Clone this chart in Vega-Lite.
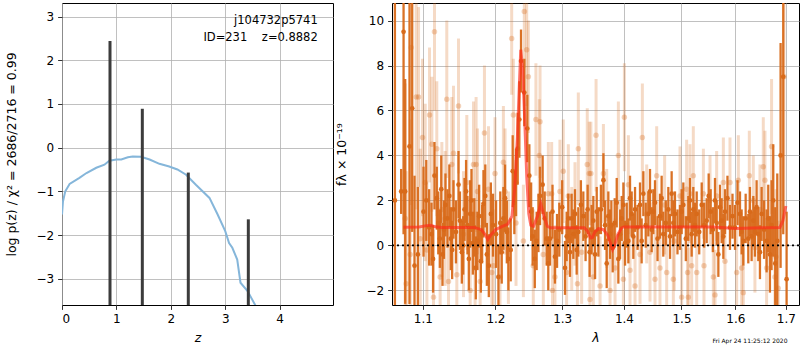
{
"$schema": "https://vega.github.io/schema/vega-lite/v6.json",
"padding": {"left": 5, "top": 2, "right": 1, "bottom": 0},
"background": "white",
"bounds": "flush",
"spacing": 59,
"config": {
 "font": "DejaVu Sans",
 "view": {"stroke": "black", "strokeWidth": 1},
 "axis": {"domain": false, "grid": true, "gridColor": "#b0b0b0", "gridWidth": 0.8, "tickColor": "black", "tickSize": 4.4, "tickWidth": 0.8, "labelFontSize": 12, "labelColor": "black", "labelPadding": 4, "titleFontSize": 12.5, "titleFontWeight": "normal", "titleColor": "black"}
},
"datasets": {
 "pz": [
  {"z":0,"lp":-1.53},{"z":0.018,"lp":-1.23},{"z":0.06,"lp":-1.0},{"z":0.14,"lp":-0.83},{"z":0.32,"lp":-0.69},{"z":0.45,"lp":-0.58},{"z":0.63,"lp":-0.46},{"z":0.78,"lp":-0.39},{"z":0.87,"lp":-0.30},{"z":1.0,"lp":-0.27},{"z":1.09,"lp":-0.27},{"z":1.21,"lp":-0.22},{"z":1.30,"lp":-0.20},{"z":1.45,"lp":-0.21},{"z":1.61,"lp":-0.27},{"z":1.79,"lp":-0.37},{"z":1.97,"lp":-0.43},{"z":2.12,"lp":-0.50},{"z":2.28,"lp":-0.62},{"z":2.46,"lp":-0.85},{"z":2.71,"lp":-1.15},{"z":2.86,"lp":-1.53},{"z":3.0,"lp":-1.91},{"z":3.07,"lp":-2.18},{"z":3.13,"lp":-2.29},{"z":3.22,"lp":-2.56},{"z":3.28,"lp":-3.09},{"z":3.41,"lp":-3.28},{"z":3.55,"lp":-3.60},{"z":3.6,"lp":-3.7}
 ],
 "peaks": [
  {"z":0.882,"top":2.44},{"z":1.476,"top":0.89},{"z":2.321,"top":-0.57},{"z":3.424,"top":-1.64}
 ],
 "model": [
  {"l":1.0747,"f":0.81},{"l":1.095,"f":0.82},{"l":1.105,"f":0.88},{"l":1.110,"f":0.90},{"l":1.115,"f":0.84},{"l":1.125,"f":0.80},{"l":1.170,"f":0.80},{"l":1.180,"f":0.70},{"l":1.186,"f":0.45},{"l":1.189,"f":0.27},{"l":1.193,"f":0.45},{"l":1.200,"f":0.70},{"l":1.210,"f":0.85},{"l":1.218,"f":0.95},{"l":1.224,"f":1.3},{"l":1.228,"f":2.5},{"l":1.232,"f":4.8},{"l":1.235,"f":7.2},{"l":1.237,"f":8.7},{"l":1.240,"f":7.8},{"l":1.243,"f":5.5},{"l":1.246,"f":3.0},{"l":1.249,"f":1.4},{"l":1.252,"f":0.9},{"l":1.256,"f":0.85},{"l":1.262,"f":1.3},{"l":1.267,"f":1.85},{"l":1.272,"f":1.3},{"l":1.277,"f":0.85},{"l":1.282,"f":0.78},{"l":1.335,"f":0.78},{"l":1.340,"f":0.65},{"l":1.345,"f":0.33},{"l":1.348,"f":0.35},{"l":1.352,"f":0.60},{"l":1.358,"f":0.75},{"l":1.366,"f":0.70},{"l":1.373,"f":0.45},{"l":1.378,"f":0.05},{"l":1.381,"f":-0.18},{"l":1.385,"f":0.05},{"l":1.390,"f":0.50},{"l":1.396,"f":0.78},{"l":1.400,"f":0.82},{"l":1.50,"f":0.82},{"l":1.56,"f":0.82},{"l":1.60,"f":0.75},{"l":1.65,"f":0.78},{"l":1.688,"f":0.80},{"l":1.694,"f":1.1},{"l":1.700,"f":1.75}
 ],
 "dark": [
  {"l":1.0637,"f":2.0,"e":9},{"l":1.0717,"f":2.4,"e":1.0},{"l":1.0748,"f":9.5,"e":9},{"l":1.0769,"f":2.4,"e":5},{"l":1.0825,"f":4.4,"e":7},{"l":1.0860,"f":6.1,"e":5.5},{"l":1.0890,"f":-0.9,"e":4},{"l":1.0934,"f":-0.4,"e":3},{"l":1.1008,"f":1.5,"e":2},{"l":1.1045,"f":2.0,"e":1.8},{"l":1.1083,"f":0.8,"e":1.7},{"l":1.1114,"f":0.5,"e":1.4},{"l":1.1135,"f":-0.6,"e":1.5},{"l":1.1154,"f":3.1,"e":1.5},{"l":1.1185,"f":2.1,"e":1.4},{"l":1.1205,"f":1.0,"e":1.4},{"l":1.1226,"f":0.3,"e":1.3},{"l":1.1245,"f":2.5,"e":1.5},{"l":1.1262,"f":-0.4,"e":1.4},{"l":1.1282,"f":0.7,"e":1.3},{"l":1.1302,"f":1.8,"e":1.4},{"l":1.1329,"f":1.2,"e":1.3},{"l":1.1355,"f":2.2,"e":1.4},{"l":1.1375,"f":0.3,"e":1.4},{"l":1.1393,"f":-0.2,"e":1.3},{"l":1.1411,"f":1.6,"e":1.3},{"l":1.1445,"f":0.6,"e":1.4},{"l":1.1480,"f":2.7,"e":1.5},{"l":1.1500,"f":1.1,"e":1.3},{"l":1.1526,"f":-0.3,"e":1.4},{"l":1.1545,"f":0.0,"e":1.3},{"l":1.1563,"f":1.6,"e":1.4},{"l":1.1585,"f":2.4,"e":1.4},{"l":1.1604,"f":0.9,"e":1.3},{"l":1.1623,"f":-0.6,"e":1.4},{"l":1.1642,"f":1.4,"e":1.5},{"l":1.1660,"f":2.0,"e":1.4},{"l":1.1679,"f":0.1,"e":1.4},{"l":1.1700,"f":0.8,"e":1.3},{"l":1.1721,"f":-1.0,"e":1.4},{"l":1.1744,"f":0.2,"e":1.3},{"l":1.1768,"f":1.3,"e":1.4},{"l":1.1792,"f":-0.7,"e":1.4},{"l":1.1810,"f":0.5,"e":1.3},{"l":1.1829,"f":1.85,"e":1.5},{"l":1.1855,"f":2.2,"e":1.4},{"l":1.1877,"f":-0.4,"e":1.4},{"l":1.1905,"f":-0.9,"e":1.4},{"l":1.1934,"f":1.4,"e":1.4},{"l":1.1965,"f":0.9,"e":1.4},
  {"l":1.2009,"f":0.5,"e":1.5},{"l":1.2043,"f":-1.4,"e":1.4},{"l":1.2070,"f":1.0,"e":1.4},{"l":1.2091,"f":-0.3,"e":1.4},{"l":1.2115,"f":1.2,"e":1.4},{"l":1.2139,"f":2.1,"e":1.5},{"l":1.2165,"f":0.6,"e":1.4},{"l":1.2188,"f":-0.6,"e":1.4},{"l":1.2222,"f":-0.2,"e":1.4},{"l":1.2251,"f":3.3,"e":1.6},{"l":1.2275,"f":1.9,"e":1.4},{"l":1.2300,"f":2.8,"e":1.5},{"l":1.2325,"f":4.3,"e":1.6},{"l":1.2349,"f":5.6,"e":1.7},{"l":1.2374,"f":8.2,"e":1.4},{"l":1.2423,"f":6.8,"e":1.5},{"l":1.2468,"f":5.2,"e":1.5},{"l":1.2498,"f":3.1,"e":1.4},{"l":1.2525,"f":1.5,"e":1.3},{"l":1.2548,"f":0.4,"e":1.3},{"l":1.2580,"f":-0.6,"e":1.3},{"l":1.2608,"f":0.2,"e":1.3},{"l":1.2635,"f":1.0,"e":1.3},{"l":1.2659,"f":2.2,"e":1.3},{"l":1.2699,"f":2.7,"e":1.3},{"l":1.2730,"f":1.2,"e":1.2},{"l":1.2760,"f":0.3,"e":1.2},{"l":1.2785,"f":-0.8,"e":1.2},{"l":1.2811,"f":0.3,"e":1.2},{"l":1.2850,"f":1.5,"e":1.2},{"l":1.2888,"f":-0.5,"e":1.2},{"l":1.2920,"f":0.2,"e":1.2},{"l":1.2955,"f":0.7,"e":1.2},{"l":1.3000,"f":1.7,"e":1.2},{"l":1.3044,"f":-1.0,"e":1.2},{"l":1.3070,"f":0.4,"e":1.1},{"l":1.3096,"f":1.2,"e":1.1},{"l":1.3122,"f":-0.3,"e":1.1},{"l":1.3148,"f":1.2,"e":1.1},{"l":1.3175,"f":0.5,"e":1.1},{"l":1.3201,"f":1.4,"e":1.1},{"l":1.3228,"f":-0.2,"e":1.1},{"l":1.3254,"f":0.6,"e":1.1},{"l":1.3295,"f":1.8,"e":1.1},{"l":1.3334,"f":1.3,"e":1.1},{"l":1.3370,"f":0.4,"e":1.1},{"l":1.3403,"f":1.6,"e":1.1},{"l":1.3435,"f":-0.3,"e":1.1},{"l":1.3467,"f":0.7,"e":1.1},
  {"l":1.3495,"f":1.1,"e":1.1},{"l":1.3523,"f":-0.4,"e":1.1},{"l":1.3550,"f":1.5,"e":1.1},{"l":1.3577,"f":0.6,"e":1.1},{"l":1.3618,"f":1.6,"e":1.1},{"l":1.3659,"f":2.9,"e":1.2},{"l":1.3686,"f":0.9,"e":1.1},{"l":1.3713,"f":-0.8,"e":1.1},{"l":1.3740,"f":1.3,"e":1.1},{"l":1.3768,"f":0.5,"e":1.1},{"l":1.3790,"f":0.9,"e":1.1},{"l":1.3812,"f":-0.1,"e":1.1},{"l":1.3845,"f":1.0,"e":1.1},{"l":1.3879,"f":1.9,"e":1.1},{"l":1.3906,"f":-0.6,"e":1.1},{"l":1.3934,"f":0.5,"e":1.1},{"l":1.3962,"f":1.2,"e":1.0},{"l":1.3990,"f":1.8,"e":1.0},{"l":1.4018,"f":0.1,"e":1.0},{"l":1.4046,"f":0.9,"e":1.0},{"l":1.4074,"f":0.2,"e":1.0},{"l":1.4102,"f":2.1,"e":1.0},{"l":1.4130,"f":1.4,"e":1.0},{"l":1.4158,"f":0.4,"e":1.0},{"l":1.4187,"f":1.6,"e":1.0},{"l":1.4230,"f":0.8,"e":1.0},{"l":1.4272,"f":1.8,"e":1.0},{"l":1.4300,"f":0.2,"e":1.0},{"l":1.4329,"f":2.3,"e":1.0},{"l":1.4370,"f":0.9,"e":1.0},{"l":1.4415,"f":1.4,"e":1.0},{"l":1.4444,"f":2.4,"e":1.0},{"l":1.4473,"f":0.7,"e":1.0},{"l":1.4502,"f":1.5,"e":1.0},{"l":1.4531,"f":1.9,"e":1.0},{"l":1.4575,"f":0.3,"e":1.0},{"l":1.4618,"f":1.3,"e":1.0},{"l":1.4647,"f":2.1,"e":1.0},{"l":1.4676,"f":0.5,"e":1.0},{"l":1.4720,"f":1.0,"e":1.0},{"l":1.4765,"f":1.6,"e":1.0},{"l":1.4795,"f":0.4,"e":1.0},{"l":1.4824,"f":2.3,"e":1.0},{"l":1.4854,"f":1.0,"e":1.0},{"l":1.4883,"f":1.4,"e":1.0},{"l":1.4928,"f":0.6,"e":1.0},{"l":1.4973,"f":0.8,"e":1.0},{"l":1.5003,"f":1.5,"e":1.0},{"l":1.5033,"f":1.8,"e":1.0},{"l":1.5078,"f":0.3,"e":1.0},{"l":1.5123,"f":1.2,"e":1.0},{"l":1.5153,"f":2.0,"e":1.0},{"l":1.5184,"f":0.5,"e":1.0},
  {"l":1.5214,"f":1.6,"e":1.0},{"l":1.5245,"f":0.9,"e":1.0},{"l":1.5276,"f":1.4,"e":1.0},{"l":1.5322,"f":0.6,"e":1.0},{"l":1.5368,"f":1.8,"e":1.0},{"l":1.5414,"f":0.9,"e":1.0},{"l":1.5460,"f":1.1,"e":1.0},{"l":1.5497,"f":2.2,"e":1.0},{"l":1.5534,"f":1.5,"e":1.0},{"l":1.5575,"f":0.7,"e":1.0},{"l":1.5615,"f":2.0,"e":1.0},{"l":1.5646,"f":1.0,"e":1.0},{"l":1.5678,"f":-0.4,"e":1.0},{"l":1.5709,"f":1.7,"e":1.0},{"l":1.5740,"f":1.1,"e":1.0},{"l":1.5772,"f":0.4,"e":1.0},{"l":1.5803,"f":1.5,"e":1.0},{"l":1.5850,"f":2.1,"e":1.0},{"l":1.5898,"f":0.8,"e":1.0},{"l":1.5946,"f":1.3,"e":1.0},{"l":1.5994,"f":0.8,"e":1.0},{"l":1.6042,"f":1.9,"e":1.0},{"l":1.6090,"f":1.4,"e":1.0},{"l":1.6122,"f":0.6,"e":1.0},{"l":1.6154,"f":0.2,"e":1.1},{"l":1.6200,"f":1.2,"e":1.1},{"l":1.6251,"f":0.3,"e":1.1},{"l":1.6283,"f":1.5,"e":1.1},{"l":1.6316,"f":0.4,"e":1.1},{"l":1.6349,"f":1.1,"e":1.1},{"l":1.6381,"f":0.6,"e":1.1},{"l":1.6414,"f":1.7,"e":1.2},{"l":1.6447,"f":0.5,"e":1.2},{"l":1.6480,"f":-0.3,"e":1.2},{"l":1.6513,"f":1.4,"e":1.2},{"l":1.6562,"f":0.7,"e":1.3},{"l":1.6612,"f":0.2,"e":1.4},{"l":1.6645,"f":1.2,"e":1.5},{"l":1.6678,"f":-0.4,"e":1.7},{"l":1.6711,"f":0.9,"e":2},{"l":1.6745,"f":2.0,"e":2.5},{"l":1.6785,"f":-0.8,"e":2.5},{"l":1.6826,"f":0.2,"e":3},{"l":1.6893,"f":4.0,"e":5},{"l":1.6947,"f":7.5,"e":7},{"l":1.7015,"f":-1.5,"e":3}
 ],
 "light": [
  {"l":1.0769,"f":1.2,"e":6},{"l":1.0782,"f":-1.7,"e":5},{"l":1.0834,"f":-0.4,"e":6},{"l":1.0847,"f":8.8,"e":7},{"l":1.0912,"f":6.6,"e":5},{"l":1.0943,"f":6.6,"e":4},{"l":1.0965,"f":0.3,"e":4},{"l":1.0995,"f":4.8,"e":3.5},{"l":1.1031,"f":2.8,"e":3.5},{"l":1.1053,"f":-0.2,"e":3},{"l":1.1088,"f":5.8,"e":3},{"l":1.1119,"f":4.5,"e":3},{"l":1.1141,"f":-2.3,"e":3},{"l":1.1154,"f":9.5,"e":3.5},{"l":1.1185,"f":4.3,"e":3},{"l":1.1230,"f":-1.4,"e":2.8},{"l":1.1253,"f":1.6,"e":3},{"l":1.1298,"f":1.2,"e":3},{"l":1.1320,"f":6.5,"e":3.5},{"l":1.1343,"f":-1.6,"e":2.5},{"l":1.1388,"f":3.6,"e":3},{"l":1.1411,"f":4.1,"e":3},{"l":1.1457,"f":-1.3,"e":2.5},{"l":1.1480,"f":6.2,"e":3},{"l":1.1549,"f":0.5,"e":2.8},{"l":1.1595,"f":2.8,"e":3},{"l":1.1642,"f":-2.0,"e":2.5},{"l":1.1688,"f":3.6,"e":2.8},{"l":1.1711,"f":-1.0,"e":2.5},{"l":1.1725,"f":3.6,"e":3},{"l":1.1744,"f":2.4,"e":2.8},{"l":1.1782,"f":-1.6,"e":2.5},{"l":1.1843,"f":5.0,"e":3},{"l":1.1900,"f":2.5,"e":2.8},{"l":1.1948,"f":-1.2,"e":2.5},{"l":1.1970,"f":-0.9,"e":2.5},{"l":1.1994,"f":3.2,"e":2.5},{"l":1.2066,"f":-1.4,"e":2.5},{"l":1.2115,"f":3.7,"e":2.5},{"l":1.2139,"f":2.4,"e":2.8},{"l":1.2188,"f":-0.1,"e":2.5},{"l":1.2236,"f":9.2,"e":2.5},{"l":1.2261,"f":5.8,"e":2.5},{"l":1.2300,"f":1.0,"e":2.8},{"l":1.2409,"f":0.2,"e":2.5},{"l":1.2423,"f":10.4,"e":2.5},{"l":1.2458,"f":8.7,"e":2.5},{"l":1.2483,"f":7.5,"e":2.5},{"l":1.2557,"f":-0.9,"e":2.5},{"l":1.2597,"f":5.6,"e":2.5},{"l":1.2648,"f":4.0,"e":2.5},{"l":1.2659,"f":5.5,"e":2.5},{"l":1.2709,"f":-0.4,"e":2.3},{"l":1.2786,"f":2.3,"e":2.3},{"l":1.2837,"f":2.3,"e":2.3},{"l":1.2850,"f":-2.0,"e":2.3},{"l":1.2888,"f":-1.4,"e":2.3},{"l":1.2965,"f":2.4,"e":2.3},{"l":1.3017,"f":3.3,"e":2.3},{"l":1.3069,"f":-1.2,"e":2.3},{"l":1.3096,"f":2.2,"e":2.3},{"l":1.3150,"f":0.3,"e":2.3},{"l":1.3201,"f":1.4,"e":2.3},{"l":1.3240,"f":-1.7,"e":2.3},{"l":1.3254,"f":4.3,"e":2.5},{"l":1.3307,"f":-0.3,"e":2.3},{"l":1.3397,"f":3.6,"e":2.5},{"l":1.3429,"f":3.2,"e":2.3},{"l":1.3440,"f":-2.4,"e":2.3},{"l":1.3455,"f":3.2,"e":2.3},{"l":1.3495,"f":-1.4,"e":2.2},{"l":1.3539,"f":4.9,"e":2.5},{"l":1.3604,"f":-1.8,"e":2.2},{"l":1.3659,"f":3.2,"e":2.2},{"l":1.3713,"f":1.2,"e":2.2},{"l":1.3768,"f":-2.0,"e":2.2},{"l":1.3851,"f":-1.0,"e":2.2},{"l":1.3906,"f":4.0,"e":2.4},{"l":1.3990,"f":-1.5,"e":2.2},{"l":1.4007,"f":5.7,"e":2.4},{"l":1.4074,"f":2.7,"e":2.2},{"l":1.4102,"f":-1.1,"e":2.2},{"l":1.4187,"f":-1.8,"e":2.2},{"l":1.4272,"f":-0.4,"e":2.2},{"l":1.4312,"f":4.8,"e":2.4},{"l":1.4387,"f":1.4,"e":2.2},{"l":1.4444,"f":-0.3,"e":2.2},{"l":1.4531,"f":-1.5,"e":2.2},{"l":1.4560,"f":3.1,"e":2.2},{"l":1.4618,"f":-1.0,"e":2.2},{"l":1.4700,"f":1.8,"e":2.2},{"l":1.4736,"f":-1.2,"e":2.2},{"l":1.4854,"f":-1.5,"e":2.2},{"l":1.4870,"f":0.2,"e":2.2},{"l":1.4973,"f":2.2,"e":2.2},{"l":1.5003,"f":-2.3,"e":2.2},{"l":1.5093,"f":2.5,"e":2.2},{"l":1.5110,"f":-1.2,"e":2.2},{"l":1.5123,"f":-2.3,"e":2.2},{"l":1.5153,"f":2.3,"e":2.2},{"l":1.5184,"f":-0.9,"e":2},{"l":1.5214,"f":3.1,"e":2.2},{"l":1.5276,"f":-1.2,"e":2},{"l":1.5399,"f":2.3,"e":2},{"l":1.5410,"f":-0.9,"e":2},{"l":1.5522,"f":2.0,"e":2},{"l":1.5584,"f":-1.4,"e":2},{"l":1.5615,"f":-2.2,"e":2},{"l":1.5646,"f":2.2,"e":2},{"l":1.5772,"f":2.8,"e":2},{"l":1.5803,"f":-0.7,"e":2},{"l":1.5898,"f":2.8,"e":2},{"l":1.6026,"f":-1.2,"e":2},{"l":1.6058,"f":2.9,"e":2},{"l":1.6122,"f":-1.0,"e":2},{"l":1.6154,"f":-2.1,"e":2},{"l":1.6271,"f":3.1,"e":2},{"l":1.6349,"f":2.0,"e":2},{"l":1.6381,"f":-0.1,"e":2},{"l":1.6480,"f":1.6,"e":2},{"l":1.6546,"f":3.5,"e":2.2},{"l":1.6579,"f":2.9,"e":2.2},{"l":1.6612,"f":-1.0,"e":2.2},{"l":1.6711,"f":4.4,"e":3},{"l":1.6778,"f":-1.4,"e":3},{"l":1.6798,"f":-0.5,"e":3},{"l":1.6845,"f":-1.9,"e":3},{"l":1.6961,"f":7.5,"e":6}
 ]
},
"hconcat": [
 {
  "width": 271, "height": 302,
  "layer": [
   {"data": {"name": "pz"},
    "mark": {"type": "line", "color": "#85b6da", "strokeWidth": 2, "clip": true},
    "encoding": {
     "x": {"field": "z", "type": "quantitative", "scale": {"domain": [0, 4.98], "nice": false, "zero": false}, "axis": {"values": [0,1,2,3,4], "title": "z", "titleFontStyle": "italic", "titlePadding": 7}},
     "y": {"field": "lp", "type": "quantitative", "scale": {"domain": [-3.6, 3.31], "nice": false, "zero": false}, "axis": {"values": [-3,-2,-1,0,1,2,3], "title": "log p(z) / χ² = 2686/2716 = 0.99", "titlePadding": 17}}
    }},
   {"data": {"name": "peaks"},
    "mark": {"type": "rule", "color": "#3c3c3c", "strokeWidth": 3},
    "encoding": {
     "x": {"field": "z", "type": "quantitative"},
     "y": {"field": "top", "type": "quantitative"},
     "y2": {"datum": -3.6}
    }},
   {"data": {"values": [{}]},
    "mark": {"type": "text", "align": "right", "baseline": "middle", "fontSize": 11.5, "color": "black"},
    "encoding": {"x": {"datum": 4.70}, "y": {"datum": 2.90}, "text": {"value": "j104732p5741"}}},
   {"data": {"values": [{}]},
    "mark": {"type": "text", "align": "right", "baseline": "middle", "fontSize": 11.5, "color": "black"},
    "encoding": {"x": {"datum": 4.70}, "y": {"datum": 2.516}, "text": {"value": "ID=231\u00a0\u00a0\u00a0\u00a0z=0.8882"}}}
  ]
 },
 {
  "width": 407, "height": 302,
  "layer": [
   {"data": {"name": "light"},
    "mark": {"type": "errorbar", "color": "#d86a1a", "opacity": 0.25, "thickness": 3, "clip": true},
    "encoding": {
     "x": {"field": "l", "type": "quantitative", "title": "λ", "scale": {"type": "log", "domain": [1.06, 1.727], "nice": false}, "axis": {"values": [1.1,1.2,1.3,1.4,1.5,1.6,1.7], "format": ".1f", "titleFontStyle": "italic", "titlePadding": 7}},
     "y": {"field": "f", "type": "quantitative", "title": "fλ × 10⁻¹⁹", "scale": {"domain": [-2.65, 10.78], "nice": false, "zero": false}, "axis": {"values": [-2,0,2,4,6,8,10], "titlePadding": 17}},
     "yError": {"field": "e"}
    }},
   {"data": {"name": "light"},
    "mark": {"type": "circle", "color": "#d86a1a", "opacity": 0.3, "size": 30, "clip": true},
    "encoding": {"x": {"field": "l", "type": "quantitative", "title": "λ"}, "y": {"field": "f", "type": "quantitative", "title": "fλ × 10⁻¹⁹"}}},
   {"data": {"name": "dark"},
    "mark": {"type": "errorbar", "color": "#d86a1a", "opacity": 0.95, "thickness": 2.3, "clip": true},
    "encoding": {"x": {"field": "l", "type": "quantitative", "title": "λ"}, "y": {"field": "f", "type": "quantitative", "title": "fλ × 10⁻¹⁹"}, "yError": {"field": "e"}}},
   {"data": {"name": "dark"},
    "mark": {"type": "circle", "color": "#d86a1a", "opacity": 1, "size": 22, "clip": true},
    "encoding": {"x": {"field": "l", "type": "quantitative", "title": "λ"}, "y": {"field": "f", "type": "quantitative", "title": "fλ × 10⁻¹⁹"}}},
   {"data": {"name": "model"},
    "mark": {"type": "line", "color": "#ff2a1a", "opacity": 0.65, "strokeWidth": 3, "clip": true},
    "encoding": {"x": {"field": "l", "type": "quantitative", "title": "λ"}, "y": {"field": "f", "type": "quantitative", "title": "fλ × 10⁻¹⁹"}}},
   {"data": {"values": [{}]},
    "mark": {"type": "rule", "color": "black", "strokeWidth": 1.8, "strokeDash": [2, 3]},
    "encoding": {"y": {"datum": 0}}},
   {"data": {"values": [{}]},
    "mark": {"type": "text", "align": "right", "baseline": "middle", "fontSize": 6, "color": "black"},
    "encoding": {"x": {"datum": 1.7033}, "y": {"datum": -4.25}, "text": {"value": "Fri Apr 24 11:25:12 2020"}}}
  ]
 }
]
}
